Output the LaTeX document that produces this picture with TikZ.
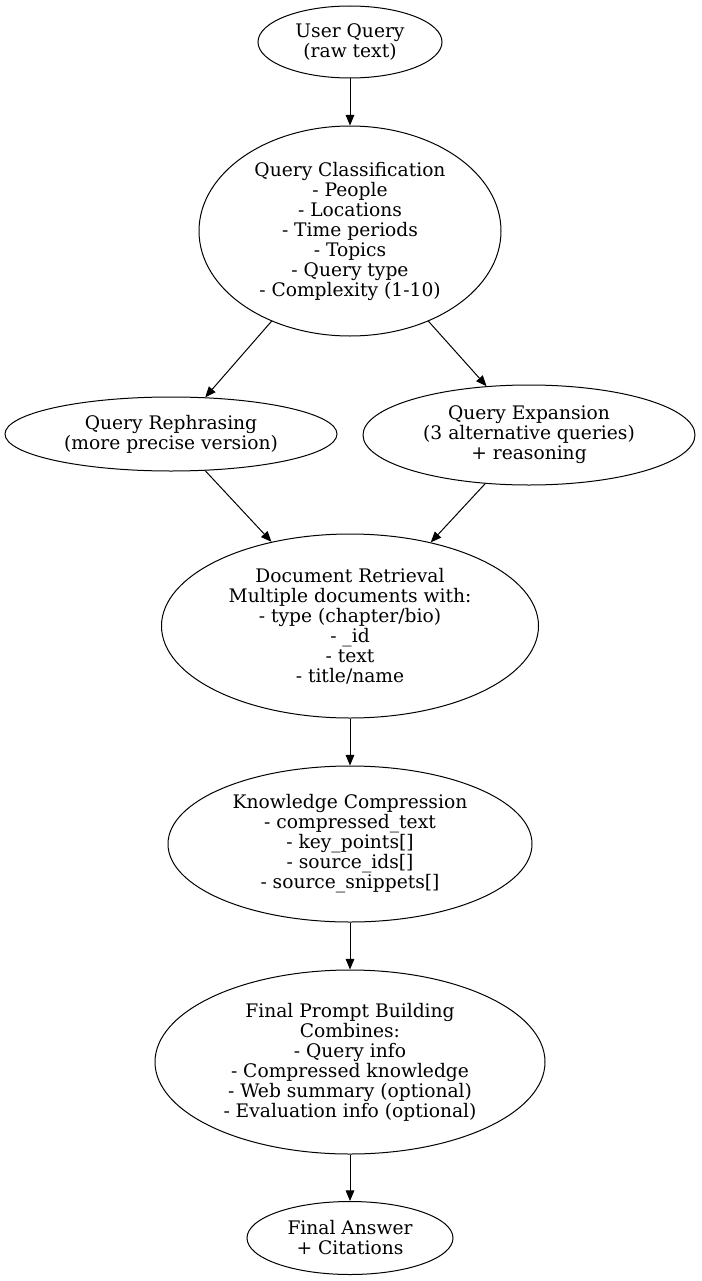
\documentclass[tikz,border=0pt]{standalone}
\usepackage{fontspec}
\setmainfont{DejaVu Serif}
\usetikzlibrary{arrows.meta,shapes.geometric}
\tikzset{
  el/.style={draw, ellipse, inner sep=0pt, align=center, line width=0.75pt,
    font=\fontsize{14}{15}\selectfont},
  arr/.style={-{Triangle[length=8pt,width=6.5pt]}, line width=0.75pt}
}
\begin{document}
\begin{tikzpicture}[x=0.75pt,y=-0.75pt]
\useasboundingbox (0,0) rectangle (701,1281);
\node[el, minimum width=138pt, minimum height=54pt] (user) at (350,42) {User Query\\(raw text)};
\node[el, minimum width=226.5pt, minimum height=157.5pt] (cls) at (350,231) {Query Classification\\- People\\- Locations\\- Time periods\\- Topics\\- Query type\\- Complexity (1-10)};
\node[el, minimum width=249pt, minimum height=55.5pt] (reph) at (171,434) {Query Rephrasing\\(more precise version)};
\node[el, minimum width=249pt, minimum height=75pt] (exp) at (529,435) {Query Expansion\\(3 alternative queries)\\+ reasoning};
\node[el, minimum width=282.75pt, minimum height=138pt] (ret) at (350,626) {Document Retrieval\\Multiple documents with:\\- type (chapter/bio)\\- \_id\\- text\\- title/name};
\node[el, minimum width=273pt, minimum height=117pt] (comp) at (350,844) {Knowledge Compression\\- compressed\_text\\- key\_points[]\\- source\_ids[]\\- source\_snippets[]};
\node[el, minimum width=292.5pt, minimum height=138pt] (prompt) at (350,1062) {Final Prompt Building\\Combines:\\- Query info\\- Compressed knowledge\\- Web summary (optional)\\- Evaluation info (optional)};
\node[el, minimum width=154.5pt, minimum height=54.75pt] (ans) at (350,1238) {Final Answer\\+ Citations};
\draw[arr] (user) -- (cls);
\draw[arr] (cls.229) -- (reph.47);
\draw[arr] (cls.311) -- (exp.131);
\draw[arr] (reph.313) -- (ret.133);
\draw[arr] (exp.228) -- (ret.46);
\draw[arr] (ret) -- (comp);
\draw[arr] (comp) -- (prompt);
\draw[arr] (prompt) -- (ans);
\end{tikzpicture}
\end{document}
